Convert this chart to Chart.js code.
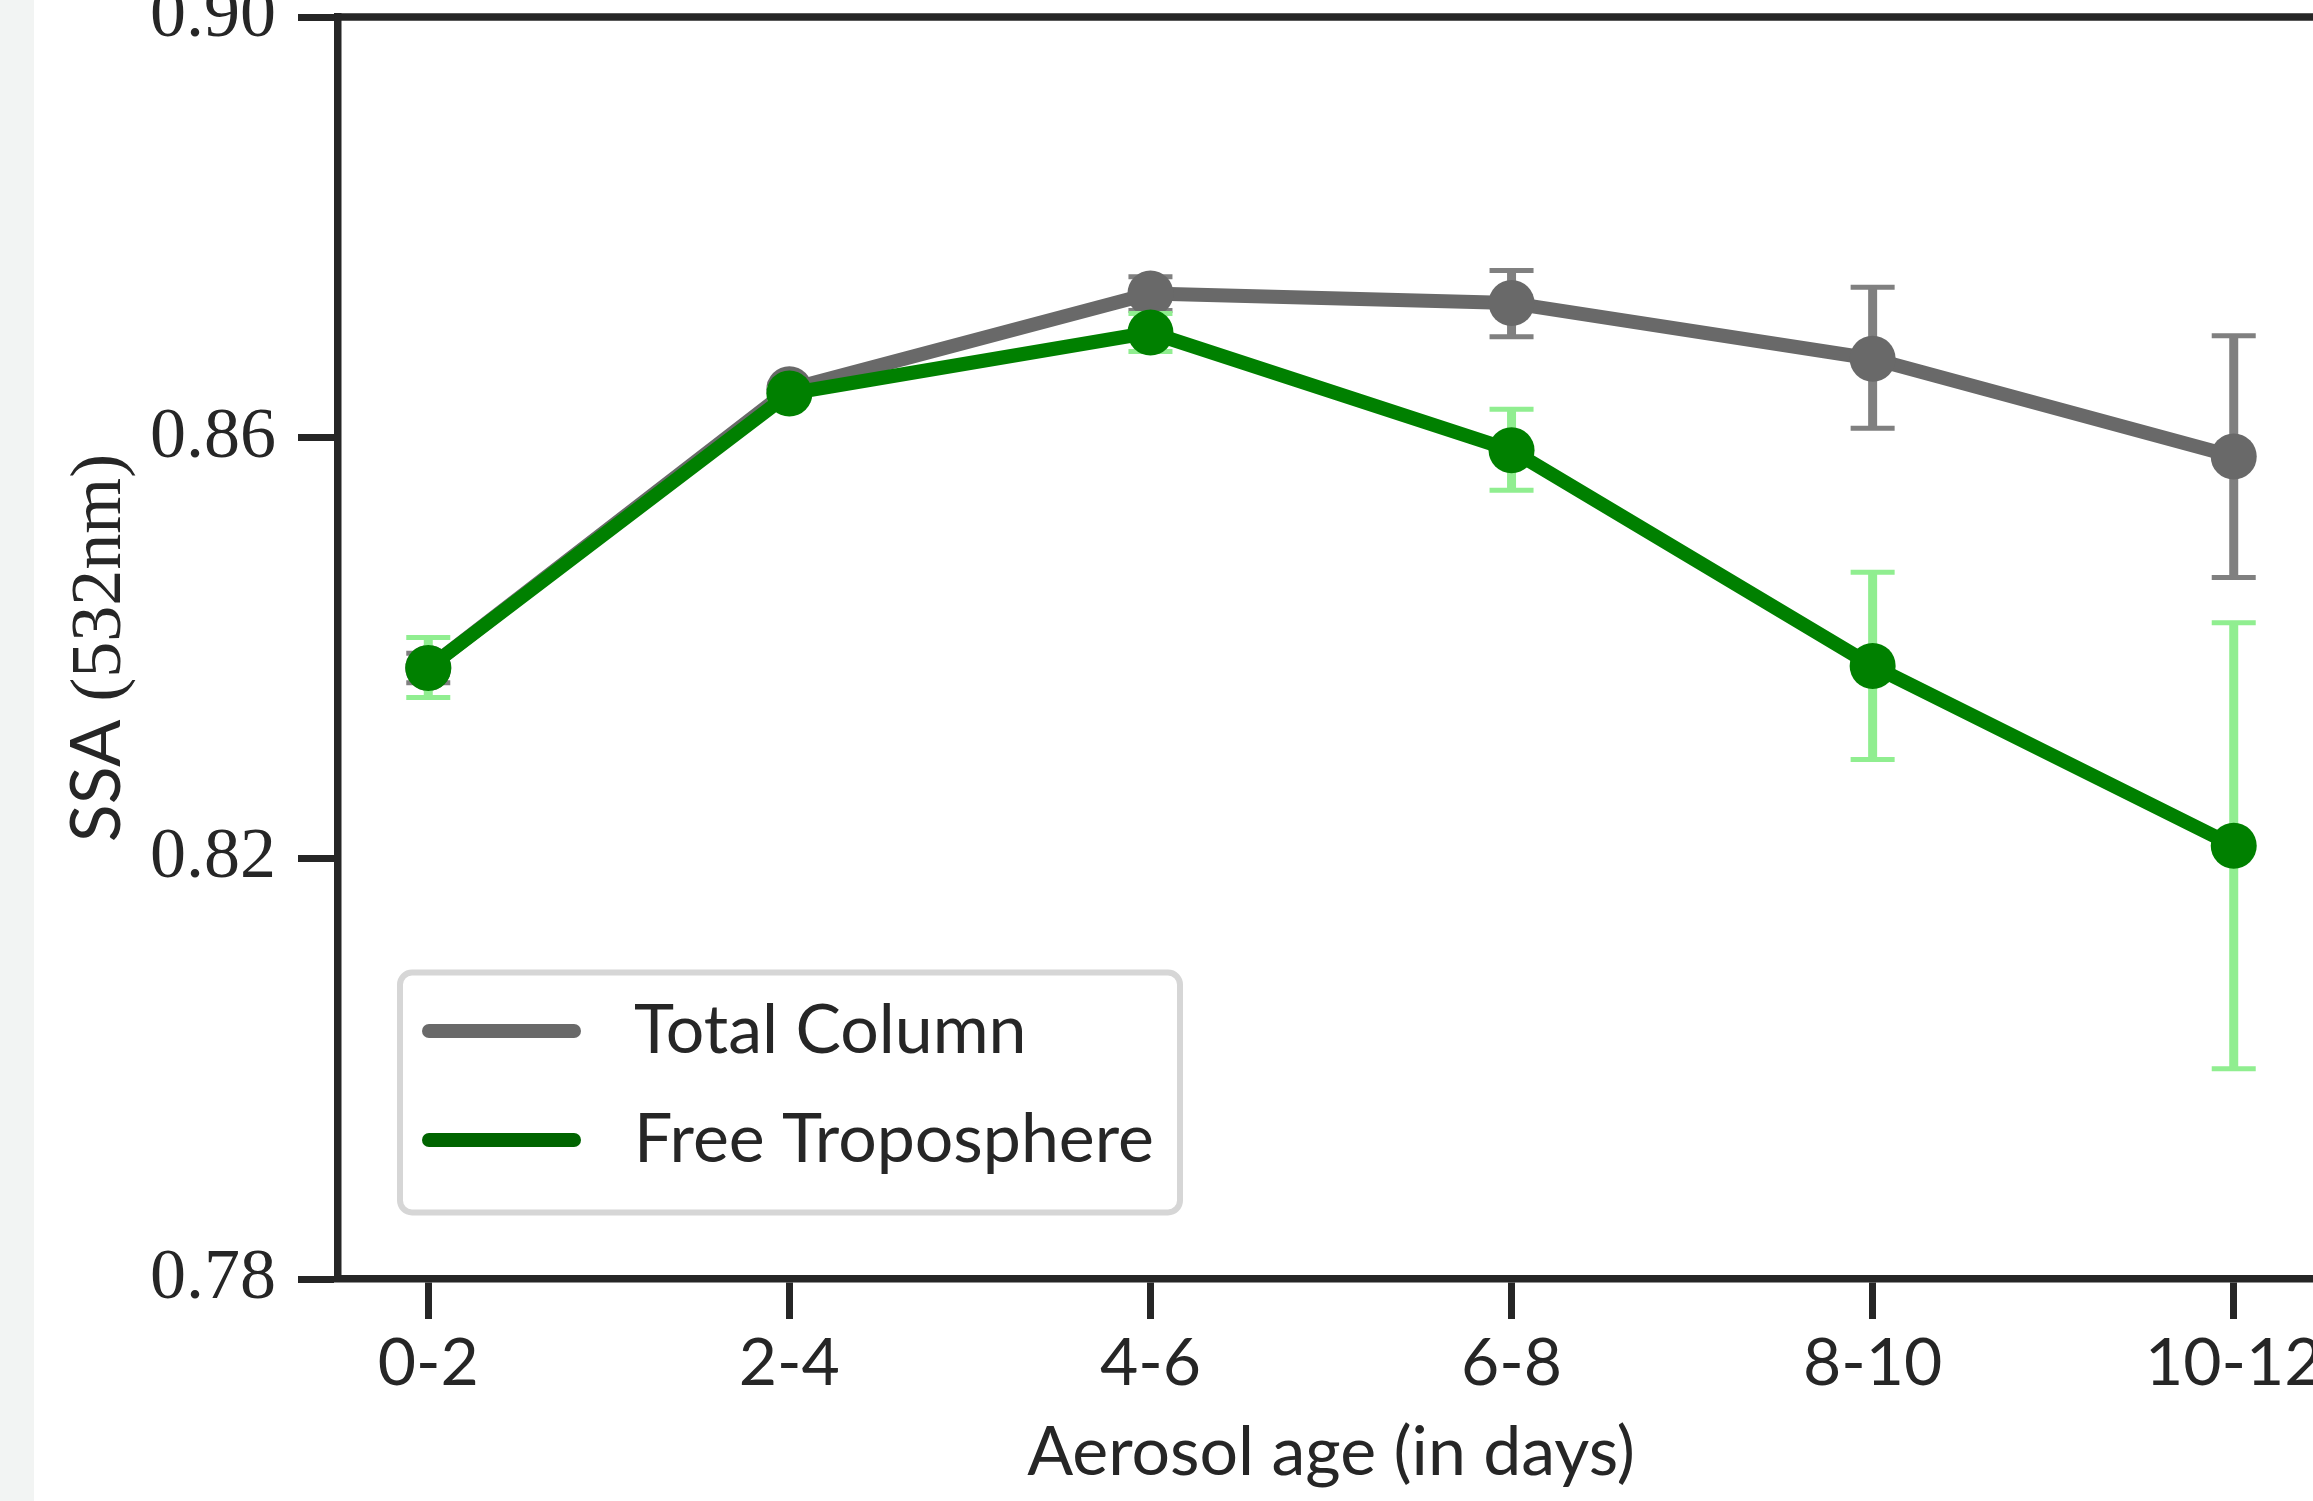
<!DOCTYPE html>
<html>
<head>
<meta charset="utf-8">
<script src="https://cdn.jsdelivr.net/npm/chart.js@4.4.1/dist/chart.umd.min.js"></script>
<style>
  html, body { margin: 0; padding: 0; overflow: hidden; background: #ffffff; }
  canvas { display: block; }
</style>
</head>
<body>
<canvas id="ssaChart" width="2400" height="1501"></canvas>
<script>
// aerosol age bins
const categories = ['0-2', '2-4', '4-6', '6-8', '8-10', '10-12'];

// total column SSA and error bar ends
const totalColumn = [0.8381, 0.8646, 0.8737, 0.8728, 0.8675, 0.8582];
const totalLow    = [0.8367, 0.8641, 0.8721, 0.8696, 0.8609, 0.8467];
const totalHigh   = [0.8395, 0.8651, 0.8753, 0.8759, 0.8743, 0.8697];

// free troposphere SSA and error bar ends
const freeTrop = [0.8381, 0.8642, 0.8700, 0.8588, 0.8383, 0.8212];
const freeLow  = [0.8353, 0.8637, 0.8682, 0.8550, 0.8294, 0.8000];
const freeHigh = [0.8410, 0.8647, 0.8718, 0.8627, 0.8472, 0.8424];

const yTicks = [0.78, 0.82, 0.86, 0.90];

const INK = '#262626';
const SANS = 'Lato';
const SERIF = 'Liberation Serif';

const errorSets = [
    { low: totalLow, high: totalHigh, color: '#808080' },
    { low: freeLow, high: freeHigh, color: '#90ee90' }
];
const legendColors = ['#696969', '#006400'];

const framePlugin = {
    id: 'frame',
    beforeDraw(chart) {
        const ctx = chart.ctx;
        ctx.save();
        ctx.fillStyle = '#ffffff';
        ctx.fillRect(0, 0, chart.width, chart.height);
        ctx.fillStyle = '#f2f4f3';
        ctx.fillRect(0, 0, 34, chart.height);
        ctx.restore();
    },
    beforeDatasetDraw(chart, args) {
        const set = errorSets[args.index];
        if (!set) return;
        const ctx = chart.ctx;
        const xs = chart.scales.x, ys = chart.scales.y;
        ctx.save();
        ctx.strokeStyle = set.color;
        for (let i = 0; i < categories.length; i++) {
            const x = xs.getPixelForValue(i);
            const y1 = ys.getPixelForValue(set.low[i]);
            const y2 = ys.getPixelForValue(set.high[i]);
            ctx.lineWidth = 9;
            ctx.beginPath();
            ctx.moveTo(x, y1);
            ctx.lineTo(x, y2);
            ctx.stroke();
            ctx.lineWidth = 5;
            ctx.beginPath();
            ctx.moveTo(x - 22, y1); ctx.lineTo(x + 22, y1);
            ctx.moveTo(x - 22, y2); ctx.lineTo(x + 22, y2);
            ctx.stroke();
        }
        ctx.restore();
    },
    afterDraw(chart) {
        const ctx = chart.ctx;
        const a = chart.chartArea;
        ctx.save();

        // top and right spines
        ctx.strokeStyle = INK;
        ctx.lineWidth = 7.5;
        ctx.beginPath();
        ctx.moveTo(a.left - 3.75, a.top);
        ctx.lineTo(a.right, a.top);
        ctx.lineTo(a.right, a.bottom);
        ctx.stroke();

        // axis titles
        ctx.fillStyle = INK;
        ctx.textBaseline = 'alphabetic';
        ctx.font = '68px ' + SANS;
        ctx.textAlign = 'center';
        ctx.fillText('Aerosol age (in days)', (a.left + a.right) / 2, 1475);

        ctx.save();
        ctx.translate(120, (a.top + a.bottom) / 2);
        ctx.rotate(-Math.PI / 2);
        ctx.textAlign = 'left';
        const p1 = 'SSA ', p2 = '(532nm)';
        ctx.font = '70px ' + SANS;
        const w1 = ctx.measureText(p1).width;
        ctx.font = '72px ' + SERIF;
        const w2 = ctx.measureText(p2).width;
        let sx = -(w1 + w2) / 2;
        ctx.font = '70px ' + SANS;
        ctx.fillText(p1, sx, 0);
        ctx.font = '72px ' + SERIF;
        ctx.fillText(p2, sx + w1, 0);
        ctx.restore();

        // legend box
        const bx = 400, by = 972.5, bw = 780, bh = 240, r = 12;
        ctx.beginPath();
        ctx.roundRect(bx, by, bw, bh, r);
        ctx.fillStyle = '#ffffff';
        ctx.fill();
        ctx.lineWidth = 6;
        ctx.strokeStyle = '#d6d6d6';
        ctx.stroke();

        const rows = [1031, 1140];
        chart.data.datasets.forEach((ds, i) => {
            const y = rows[i];
            ctx.strokeStyle = legendColors[i];
            ctx.lineWidth = 14;
            ctx.lineCap = 'round';
            ctx.beginPath();
            ctx.moveTo(429, y);
            ctx.lineTo(574, y);
            ctx.stroke();
            ctx.fillStyle = INK;
            ctx.font = '68px ' + SANS;
            ctx.textAlign = 'left';
            ctx.textBaseline = 'middle';
            ctx.fillText(ds.label, 634, y);
        });
        ctx.restore();
    }
};

const ctx = document.getElementById('ssaChart').getContext('2d');

new Chart(ctx, {
    type: 'line',
    data: {
        datasets: [{
            label: 'Total Column',
            data: totalColumn.map((v, i) => ({ x: i, y: v })),
            borderColor: '#696969',
            backgroundColor: '#696969',
            borderWidth: 14,
            pointRadius: 23,
            pointBorderWidth: 0,
            pointBackgroundColor: '#696969',
            borderJoinStyle: 'round',
            borderCapStyle: 'round',
            order: 1
        }, {
            label: 'Free Troposphere',
            data: freeTrop.map((v, i) => ({ x: i, y: v })),
            borderColor: '#008000',
            backgroundColor: '#008000',
            borderWidth: 14,
            pointRadius: 23,
            pointBorderWidth: 0,
            pointBackgroundColor: '#008000',
            borderJoinStyle: 'round',
            borderCapStyle: 'round',
            order: 0
        }]
    },
    options: {
        responsive: false,
        animation: false,
        clip: false,
        layout: { autoPadding: false, padding: { top: 17, right: 76, left: 0, bottom: 0 } },
        plugins: {
            legend: { display: false },
            tooltip: { enabled: false }
        },
        scales: {
            x: {
                type: 'linear',
                min: -0.25,
                max: 5.25,
                afterBuildTicks(scale) {
                    scale.ticks = categories.map((c, i) => ({ value: i }));
                },
                afterFit(scale) {
                    scale.height = 1501 - 1279;
                    scale.paddingLeft = 0;
                    scale.paddingRight = 0;
                },
                ticks: {
                    autoSkip: false,
                    maxRotation: 0,
                    padding: 5,
                    color: INK,
                    font: { family: SANS, size: 66 },
                    callback: (v) => categories[v]
                },
                grid: {
                    drawOnChartArea: false,
                    tickLength: 40,
                    tickWidth: 7,
                    tickColor: INK
                },
                border: { display: true, color: INK, width: 7.5 }
            },
            y: {
                min: 0.78,
                max: 0.90,
                afterBuildTicks(scale) {
                    scale.ticks = yTicks.map(v => ({ value: v }));
                },
                afterFit(scale) {
                    scale.width = 338;
                    scale.paddingTop = 0;
                    scale.paddingBottom = 0;
                },
                ticks: {
                    padding: 22,
                    color: INK,
                    font: { family: SERIF, size: 72 },
                    callback: (v) => v.toFixed(2)
                },
                grid: {
                    drawOnChartArea: false,
                    tickLength: 40,
                    tickWidth: 7,
                    tickColor: INK
                },
                border: { display: true, color: INK, width: 7.5 }
            }
        }
    },
    plugins: [framePlugin]
});
</script>
</body>
</html>
